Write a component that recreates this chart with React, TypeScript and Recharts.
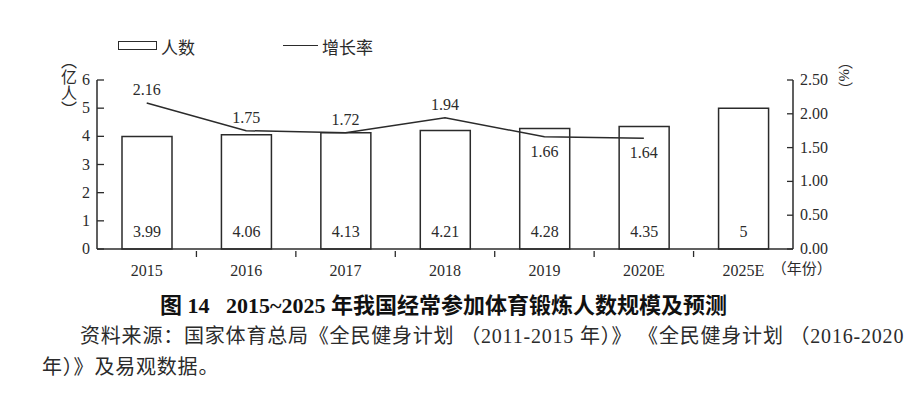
import React from 'react'
import { ComposedChart, Bar, Line, XAxis, YAxis, Legend, LabelList } from 'recharts'

const years = ['2015', '2016', '2017', '2018', '2019', '2020E', '2025E']
const people = [3.99, 4.06, 4.13, 4.21, 4.28, 4.35, 5]
const growth = [2.16, 1.75, 1.72, 1.94, 1.66, 1.64, null]
const leftTicks = [0, 1, 2, 3, 4, 5, 6]
const rightTicks = [0, 0.5, 1, 1.5, 2, 2.5]

const data = years.map((year, i) => ({ year, people: people[i], growth: growth[i] }))

const FONT = '"Liberation Serif", "Noto Sans CJK SC", serif'
const INK = '#2b2b2b'
const W = 924
const LEFT_W = 97
const RIGHT_W = 131
const BAND = (W - LEFT_W - RIGHT_W) / years.length

// growth labels for these years sit under the line
const labelBelow = new Set(['2019', '2020E'])

function XTick(props: any) {
  const { x, y, payload, index } = props
  return (
    <g>
      <text x={x} y={y + 19} textAnchor="middle" fontSize={16} fill={INK} fontFamily={FONT}>
        {payload.value}
      </text>
      {index < years.length - 1 && (
        <line x1={x + BAND / 2} x2={x + BAND / 2} y1={y} y2={y - 6} stroke={INK} strokeWidth={1.3} />
      )}
    </g>
  )
}

function LeftTick(props: any) {
  const { x, y, payload } = props
  return (
    <text x={x} y={y + 5} textAnchor="end" fontSize={16} fill={INK} fontFamily={FONT}>
      {payload.value}
    </text>
  )
}

function RightTick(props: any) {
  const { x, y, payload } = props
  return (
    <text x={x} y={y + 5} textAnchor="start" fontSize={16} fill={INK} fontFamily={FONT}>
      {Number(payload.value).toFixed(2)}
    </text>
  )
}

function GrowthLabel(props: any) {
  const { x, y, value, index } = props
  if (value == null) return null
  const below = labelBelow.has(years[index])
  return (
    <text x={x} y={below ? y + 20 : y - 8} textAnchor="middle" fontSize={16} fill={INK} fontFamily={FONT}>
      {value.toFixed(2)}
    </text>
  )
}

function PeopleLabel(props: any) {
  const { x, y, width, height, value } = props
  return (
    <text x={x + width / 2} y={y + height - 12} textAnchor="middle" fontSize={16} fill={INK} fontFamily={FONT}>
      {value}
    </text>
  )
}

function LegendBox() {
  return (
    <div style={{ position: 'relative', height: 20, fontFamily: FONT, fontSize: 17, color: INK }}>
      <div style={{ position: 'absolute', left: 0, top: 6, width: 37, height: 7, border: `1.5px solid ${INK}` }} />
      <span style={{ position: 'absolute', left: 43, top: -1 }}>人数</span>
      <div style={{ position: 'absolute', left: 165, top: 10, width: 35, height: 0, borderTop: `1.5px solid ${INK}` }} />
      <span style={{ position: 'absolute', left: 204, top: -1 }}>增长率</span>
    </div>
  )
}

const textStyle: React.CSSProperties = {
  position: 'absolute',
  fontFamily: FONT,
  color: INK,
  whiteSpace: 'nowrap',
}

export default function App() {
  return (
    <div style={{ position: 'absolute', left: 0, top: 0, width: W, height: 394, background: '#fff', overflow: 'hidden' }}>
      <ComposedChart
        width={W}
        height={290}
        data={data}
        margin={{ top: 60, right: 0, bottom: 0, left: 0 }}
        barSize={50}
        style={{ fontFamily: FONT }}
      >
        <XAxis
          dataKey="year"
          height={41}
          axisLine={{ stroke: INK, strokeWidth: 1.5 }}
          tickLine={false}
          tick={<XTick />}
          interval={0}
        />
        <YAxis
          yAxisId="left"
          width={LEFT_W}
          domain={[0, 6]}
          ticks={leftTicks}
          tickSize={-7}
          tickMargin={14}
          axisLine={{ stroke: INK, strokeWidth: 1.5 }}
          tickLine={{ stroke: INK, strokeWidth: 1.3 }}
          tick={<LeftTick />}
        />
        <YAxis
          yAxisId="right"
          orientation="right"
          width={RIGHT_W}
          domain={[0, 2.5]}
          ticks={rightTicks}
          tickSize={-6}
          tickMargin={13}
          axisLine={{ stroke: INK, strokeWidth: 1.5 }}
          tickLine={{ stroke: INK, strokeWidth: 1.3 }}
          tick={<RightTick />}
        />
        <Legend
          verticalAlign="top"
          content={() => <LegendBox />}
          wrapperStyle={{ position: 'absolute', top: 35, left: 118, width: 300 }}
        />
        <Bar yAxisId="left" dataKey="people" fill="#fff" stroke={INK} strokeWidth={1.5} isAnimationActive={false}>
          <LabelList dataKey="people" content={<PeopleLabel />} />
        </Bar>
        <Line
          yAxisId="right"
          dataKey="growth"
          type="linear"
          stroke={INK}
          strokeWidth={1.5}
          dot={false}
          activeDot={false}
          isAnimationActive={false}
        >
          <LabelList dataKey="growth" content={<GrowthLabel />} />
        </Line>
      </ComposedChart>

      <div style={{ ...textStyle, left: 55, top: 53, fontSize: 16, writingMode: 'vertical-rl' }}>（亿人）</div>
      <div style={{ ...textStyle, left: 834, top: 54, fontSize: 15, writingMode: 'vertical-rl' }}>（%）</div>
      <div style={{ ...textStyle, left: 768, top: 257, fontSize: 15 }}>&nbsp;（年份）</div>

      <div style={{ ...textStyle, left: 160, top: 287, fontSize: 22, fontWeight: 'bold', color: '#111' }}>
        图 14&nbsp;&nbsp;&nbsp;2015~2025 年我国经常参加体育锻炼人数规模及预测
      </div>
      <div style={{ ...textStyle, left: 80, top: 320, fontSize: 20, letterSpacing: 0.8 }}>
        资料来源：国家体育总局《全民健身计划 （2011-2015 年）》 《全民健身计划 （2016-2020
      </div>
      <div style={{ ...textStyle, left: 42, top: 351, fontSize: 20, letterSpacing: 0.8 }}>年）》及易观数据。</div>
    </div>
  )
}
